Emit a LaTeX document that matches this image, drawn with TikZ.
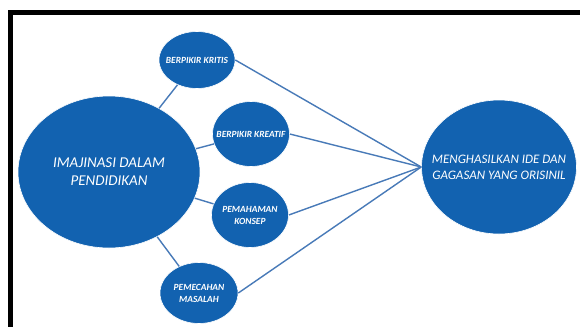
\documentclass[tikz,border=0pt]{standalone}
\usepackage{fontspec}
\setmainfont{Carlito}
\usetikzlibrary{shapes.geometric}
\definecolor{blob}{RGB}{18,98,176}
\definecolor{link}{RGB}{72,122,184}
\begin{document}
\begin{tikzpicture}[x=1pt,y=-1pt,
  bubble/.style={ellipse, fill=blob, draw=white, line width=0.6pt, inner sep=0pt},
  caption/.style={text=white, align=center, inner sep=0pt, font=\itshape},
  smallcap/.style={caption, font=\fontsize{9.4}{12}\selectfont\bfseries\itshape},
  link/.style={draw=link, line width=1.4pt}]
\useasboundingbox (0,0) rectangle (580,327);
\fill[white] (0,0) rectangle (580,327);
\draw[line width=4.5pt] (8,12.5) -- (580,12.5);
\draw[line width=4.5pt] (10.5,10.25) -- (10.5,327);
\node[bubble, minimum width=182pt, minimum height=152pt] (imaj) at (109,172) {};
\node[caption, font=\fontsize{15}{18}\selectfont\itshape] (imaj-t) at (imaj) {IMAJINASI DALAM\\PENDIDIKAN};
\node[bubble, minimum width=76pt, minimum height=57pt] (kritis) at (197,60) {};
\node[smallcap] (kritis-t) at (kritis) {BERPIKIR KRITIS};
\node[bubble, minimum width=77pt, minimum height=65pt] (kreatif) at (251,134) {};
\node[smallcap] (kreatif-t) at (kreatif) {BERPIKIR KREATIF};
\node[bubble, minimum width=77pt, minimum height=65pt] (konsep) at (250,215) {};
\node[smallcap] (konsep-t) at (konsep) {PEMAHAMAN\\KONSEP};
\node[bubble, minimum width=78pt, minimum height=61pt] (masalah) at (199,293) {};
\node[smallcap] (masalah-t) at (masalah) {PEMECAHAN\\MASALAH};
\node[bubble, minimum width=155pt, minimum height=134pt] (hasil) at (499,167) {};
\node[caption, font=\fontsize{13}{16}\selectfont\itshape] (hasil-t) at (hasil) {MENGHASILKAN IDE DAN\\GAGASAN YANG ORISINIL};
\draw[link] (imaj) -- (kritis);
\draw[link] (imaj) -- (kreatif);
\draw[link] (imaj) -- (konsep);
\draw[link] (imaj) -- (masalah);
\draw[link] (kritis.east) -- (hasil.west);
\draw[link] (kreatif.east) -- (hasil.west);
\draw[link] (konsep.east) -- (hasil.west);
\draw[link] (masalah.east) -- (hasil.west);
\end{tikzpicture}
\end{document}
